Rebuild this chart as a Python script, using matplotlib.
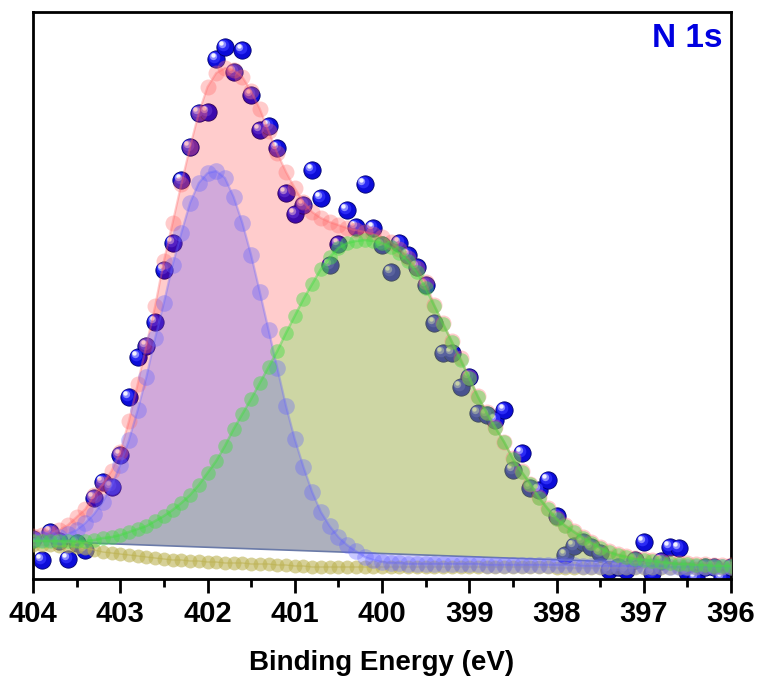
import numpy as np
import matplotlib.pyplot as plt
from matplotlib.ticker import MultipleLocator
from matplotlib.transforms import offset_copy

plt.rcParams['font.family'] = ['Liberation Sans', 'DejaVu Sans']
plt.rcParams['font.weight'] = 'bold'

# binding energy grid (eV), 0.1 eV steps from 404 down to 396
energy = np.round(np.arange(404.0, 395.95, -0.1), 1)

# measured N 1s intensity (arb. units)
counts = [40, 19, 47, 38, 20, 36, 29, 81, 97, 92,
          124, 182, 222, 233, 257, 309, 336, 399, 432, 466,
          467, 520, 532, 507, 529, 484, 449, 453, 431, 386,
          365, 374, 409, 381, 314, 335, 369, 352, 395, 351,
          334, 307, 336, 324, 312, 294, 256, 226, 226, 192,
          202, 166, 164, 159, 169, 109, 126, 91, 89, 99,
          63, 24, 33, 37, 32, 26, 9, 12, 9, 19,
          37, 6, 18, 32, 31, 7, 1, 12, 12, 1, 12]

# fitted envelope
envelope = [43, 44, 46, 49, 54, 62, 70, 84, 95, 108,
            127, 158, 195, 234, 273, 318, 356, 395, 432, 466,
            492, 506, 511, 509, 502, 488, 470, 448, 426, 407,
            391, 377, 367, 361, 357, 354, 351, 349, 347, 345,
            342, 337, 330, 321, 311, 297, 274, 256, 238, 221,
            202, 183, 167, 152, 137, 121, 108, 95, 82, 71,
            61, 54, 48, 42, 37, 32, 28, 25, 23, 21,
            20, 19, 18, 17, 16, 16, 15, 15, 14, 14, 14]

# component at ~401.9 eV
peak_1 = [40, 40, 40, 42, 45, 49, 56, 65, 77, 93,
          114, 139, 169, 202, 241, 276, 314, 346, 376, 396,
          406, 408, 401, 382, 356, 324, 287, 249, 211, 173,
          140, 112, 87, 67, 53, 42, 34, 28, 22, 19,
          17, 16, 16, 15, 15, 15, 15, 15, 15, 15,
          15, 15, 14, 14, 14, 14, 14, 14, 14, 14,
          14, 14, 14, 13, 13, 13, 13, 13, 13, 13,
          13, 13, 13, 12, 12, 12, 12, 12, 12, 12, 12]

# component at ~400.2 eV
peak_2 = [38, 38, 38, 38, 38, 38, 38, 39, 41, 42,
          44, 47, 50, 53, 58, 63, 69, 76, 84, 94,
          106, 118, 133, 150, 165, 180, 196, 212, 228, 246,
          263, 280, 295, 310, 322, 331, 336, 338, 339, 338,
          336, 332, 326, 318, 307, 291, 273, 255, 237, 219,
          201, 182, 166, 151, 137, 120, 107, 95, 81, 70,
          60, 53, 47, 41, 36, 31, 27, 24, 22, 20,
          19, 18, 17, 16, 15, 15, 14, 14, 13, 13, 13]

# Shirley background
shirley = [34, 34, 34, 33, 33, 32, 31, 29, 27, 26,
           25, 24, 23, 22, 21, 20, 19, 19, 18, 18,
           17, 17, 16, 16, 16, 15, 15, 15, 14, 14,
           13, 13, 12, 12, 12, 12, 12, 12, 12, 12,
           12, 12, 12, 12, 12, 12, 12, 12, 12, 12,
           12, 12, 12, 12, 12, 12, 12, 12, 12, 12,
           11, 11, 11, 11, 11, 11, 11, 11, 11, 11,
           11, 11, 11, 11, 11, 11, 11, 11, 11, 11, 11]

# linear baseline under the filled peaks (end points)
base_x = [396, 404]
base_y = [13, 38]

fig = plt.figure(figsize=(7.6, 6.76), dpi=100)
ax = fig.add_axes([33 / 760, 1 - 579 / 676, 698 / 760, 567 / 676])

# data points as shaded spheres
ax.scatter(energy, counts, s=155, c='#0c0cd8', edgecolors='#00006e', linewidths=0.6, zorder=2)
mid = offset_copy(ax.transData, fig=fig, x=-1.3, y=1.3, units='points')
ax.scatter(energy, counts, s=70, c='#2a2af4', linewidths=0, transform=mid, zorder=2.1)
mid2 = offset_copy(ax.transData, fig=fig, x=-2.2, y=2.2, units='points')
ax.scatter(energy, counts, s=28, c='#8a8aff', linewidths=0, transform=mid2, zorder=2.15)
hl = offset_copy(ax.transData, fig=fig, x=-2.6, y=2.6, units='points')
ax.scatter(energy, counts, s=10, c='white', alpha=0.9, linewidths=0, transform=hl, zorder=2.2)

# filled areas closed along the baseline
ax.fill(np.r_[energy, base_x], np.r_[envelope, base_y], color='#ff0000', alpha=0.2, lw=0, zorder=3)
ax.fill(np.r_[energy, base_x], np.r_[peak_2, base_y], color='#64ee52', alpha=0.32, lw=0, zorder=3.1)
ax.fill(np.r_[energy, base_x], np.r_[peak_1, base_y], color='#5a50ff', alpha=0.28, lw=0, zorder=3.2)
ax.plot(base_x, base_y, color='#6a7aa8', lw=1.2, zorder=3.3)

# fit curves with translucent markers
ax.plot(energy, shirley, '-o', color='#bcb252', ms=10, mew=0, lw=1, alpha=0.6, zorder=4)
ax.plot(energy, envelope, '-o', color='#ff6a6a', ms=11.5, mew=0, lw=1.6, alpha=0.35, zorder=4.1)
ax.plot(energy, peak_1, '-o', color='#6464ff', ms=12, mew=0, lw=1.6, alpha=0.35, zorder=4.2)
ax.plot(energy, peak_2, '-o', color='#44dd44', ms=10.5, mew=0, lw=1.8, alpha=0.45, zorder=4.3)

ax.text(0.988, 0.954, 'N 1s', transform=ax.transAxes, ha='right', va='center',
        color='#0000e0', fontsize=24, fontweight='bold')

ax.set_xlim(404, 396)
ax.set_ylim(0, 567)
ax.xaxis.set_major_locator(MultipleLocator(1))
ax.xaxis.set_minor_locator(MultipleLocator(0.5))
ax.tick_params(axis='x', which='major', direction='out', length=10, width=2, labelsize=21, pad=5)
ax.tick_params(axis='x', which='minor', direction='out', length=6, width=2)
ax.set_yticks([])
for s in ax.spines.values():
    s.set_linewidth(2)
ax.set_xlabel('Binding Energy (eV)', fontsize=20, fontweight='bold', labelpad=16)

fig.savefig('out.png', dpi=100)
